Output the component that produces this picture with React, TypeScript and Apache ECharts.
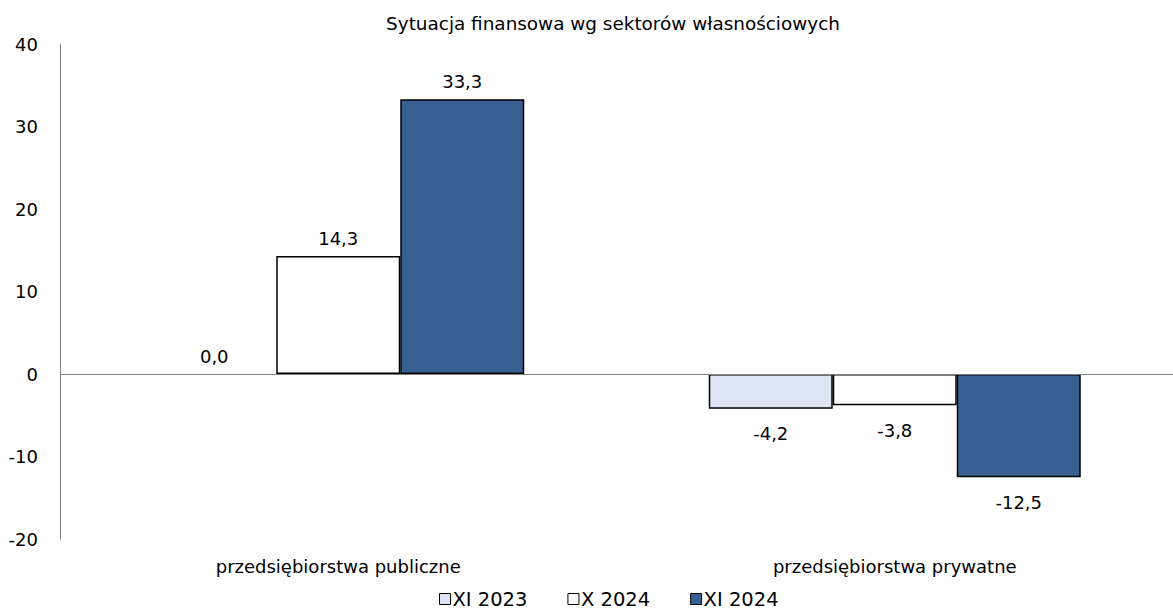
import React, { useEffect, useRef } from "react";
import * as echarts from "echarts";

const categories = ["przedsiębiorstwa publiczne", "przedsiębiorstwa prywatne"];
const seriesNames = ["XI 2023", "X 2024", "XI 2024"];
const xi2023 = [0.0, -4.2];
const x2024 = [14.3, -3.8];
const xi2024 = [33.3, -12.5];
const seriesColors = ["#dce6f2", "#ffffff", "#376092"];
const yTicks = { min: -20, max: 40, interval: 10 };
const titleText = "Sytuacja finansowa wg sektorów własnościowych";

const FONT = "DejaVu Sans";

export default function App() {
  const ref = useRef<HTMLDivElement>(null);
  useEffect(() => {
    if (!ref.current) return;
    const chart = echarts.init(ref.current, undefined, { renderer: "svg" });
    const allData = [xi2023, x2024, xi2024];
    const series = seriesNames.map((name, i) => ({
      name,
      type: "bar",
      barWidth: 124,
      barGap: "0%",
      itemStyle: {
        color: seriesColors[i],
        borderColor: "#000000",
        borderWidth: 1.5,
      },
      data: allData[i].map((v) => ({
        value: v,
        itemStyle: v === 0 ? { borderWidth: 0 } : undefined,
        label: {
          show: true,
          position: v >= 0 ? "top" : "bottom",
          distance: v >= 0 ? 9 : 16,
          formatter: (p: any) => Number(p.value).toFixed(1).replace(".", ","),
          fontFamily: FONT,
          fontSize: 18,
          color: "#000000",
        },
      })),
      markLine:
        i === 0
          ? {
              silent: true,
              symbol: "none",
              label: { show: false },
              lineStyle: { color: "#808080", width: 1, type: "solid" },
              data: [{ yAxis: 0 }],
            }
          : undefined,
    }));
    chart.setOption({
      animation: false,
      backgroundColor: "#ffffff",
      title: {
        text: titleText,
        left: 608,
        textAlign: "center",
        top: 9,
        textStyle: { fontFamily: FONT, fontSize: 18.4, fontWeight: "normal", color: "#000000" },
      },
      legend: {
        bottom: 1,
        left: 434,
        data: seriesNames,
        icon: "rect",
        itemWidth: 11,
        itemHeight: 11,
        itemGap: 40,
        textStyle: { fontFamily: FONT, fontSize: 19.5, color: "#000000", padding: [0, 0, 0, -3] },
        itemStyle: { borderColor: "#000000", borderWidth: 1 },
      },
      grid: { left: 60, right: 0, top: 44, bottom: 76, containLabel: false },
      xAxis: {
        type: "category",
        data: categories,
        axisLine: { show: false },
        axisTick: { show: false },
        axisLabel: { fontFamily: FONT, fontSize: 18, color: "#000000", margin: 18 },
      },
      yAxis: {
        type: "value",
        min: yTicks.min,
        max: yTicks.max,
        interval: yTicks.interval,
        axisLine: { show: true, lineStyle: { color: "#808080", width: 1 } },
        axisTick: { show: false },
        splitLine: { show: false },
        axisLabel: { fontFamily: FONT, fontSize: 18, color: "#000000", margin: 22 },
      },
      series,
    });
    return () => chart.dispose();
  }, []);
  return (
    <div
      ref={ref}
      style={{ position: "fixed", left: 0, top: 0, width: 1173, height: 615, background: "#fff" }}
    />
  );
}
